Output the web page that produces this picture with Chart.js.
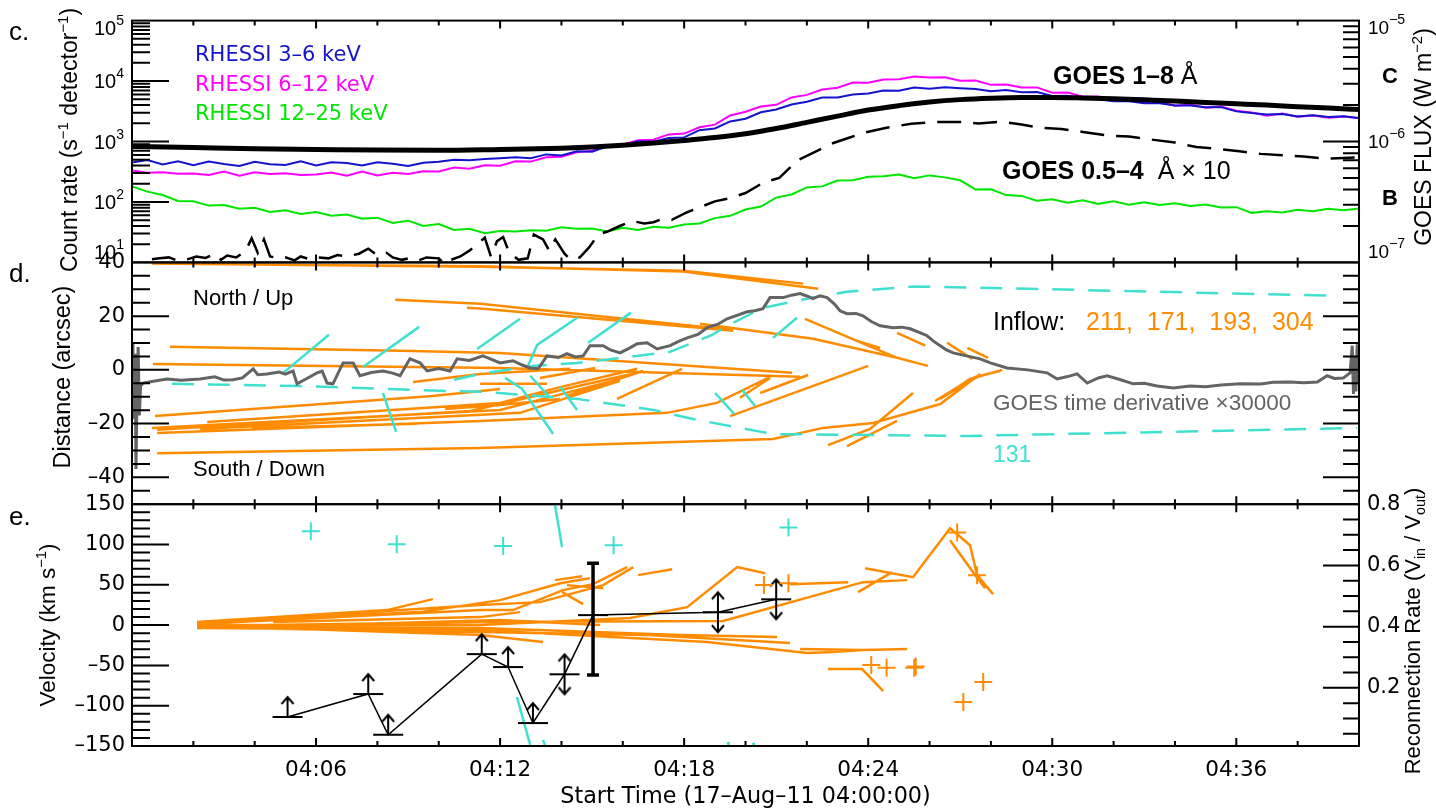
<!DOCTYPE html>
<html>
<head>
<meta charset="utf-8">
<title>17-Aug-11 flare: X-ray light curves, inflow tracks and speeds</title>
<script src="https://cdn.jsdelivr.net/npm/chart.js@4.4.1/dist/chart.umd.min.js"></script>
<style>
  html, body { margin: 0; padding: 0; background: #fff; }
  #wrap { width: 1436px; height: 810px; }
</style>
</head>
<body>
<div id="wrap"><canvas id="flare" width="1436" height="810"></canvas></div>
<script>
// ---------- panel c: X-ray light curves (minutes after 04:00) ----------
const rhessiTime = [
  0, 0.5, 1, 1.5, 2, 2.5, 3, 3.5, 4, 4.5,
  5, 5.5, 6, 6.5, 7, 7.5, 8, 8.5, 9, 9.5,
  10, 10.5, 11, 11.5, 12, 12.5, 13, 13.5, 14, 14.5,
  15, 15.5, 16, 16.5, 17, 17.5, 18, 18.5, 19, 19.5,
  20, 20.5, 21, 21.5, 22, 22.5, 23, 23.5, 24, 24.5,
  25, 25.5, 26, 26.5, 27, 27.5, 28, 28.5, 29, 29.5,
  30, 30.5, 31, 31.5, 32, 32.5, 33, 33.5, 34, 34.5,
  35, 35.5, 36, 36.5, 37, 37.5, 38, 38.5, 39, 39.5,
  40
];
const rhessi3to6 = [
  450, 492, 418, 470, 405, 468, 425, 392, 462, 420,
  410, 470, 402, 452, 440, 400, 452, 430, 392, 446,
  462, 500, 488, 512, 530, 548, 528, 612, 585, 690,
  680, 830, 860, 1010, 995, 1140, 1170, 1540, 1640, 2150,
  2380, 3050, 3380, 4100, 4560, 5350, 5350, 6000, 6200, 6950,
  6900, 7850, 7450, 7900, 7600, 7400, 6800, 7100, 6550, 6600,
  5650, 5700, 5050, 5000, 4650, 4650, 4300, 4300, 3950, 3950,
  3700, 3700, 3150, 2950, 2800, 2850, 2600, 2720, 2540, 2620,
  2450
];
const rhessi6to12 = [
  332, 305, 310, 292, 296, 280, 318, 272, 310, 290,
  298, 280, 285, 306, 272, 318, 275, 305, 290, 322,
  318, 372, 355, 405, 398, 470, 465, 550, 560, 665,
  705, 860, 890, 1045, 1070, 1310, 1350, 1720, 1900, 2700,
  3100, 3800, 4050, 5350, 5900, 7250, 7750, 9450, 9400, 10600,
  10700, 11900, 11400, 11600, 10100, 10200, 8650, 8800, 7800, 7850,
  6400, 6450, 5500, 5550, 4720, 4950, 4380, 4600, 3920, 4100,
  3630, 3800, 3220, 3020, 2680, 2900, 2580, 2700, 2480, 2580,
  2430
];
const rhessi12to25 = [
  180, 148, 130, 104, 103, 87, 89, 77, 80, 68,
  73, 63, 68, 59, 62, 53, 55, 45, 49, 40,
  43, 34.5, 36, 30.5, 33, 32.5, 34, 33.5, 38, 36,
  36.5, 32.5, 37.5, 34.5, 39, 37.5, 42.5, 44, 54, 59,
  75, 84, 118, 133, 174, 181, 226, 228, 262, 265,
  284, 246, 275, 255, 228, 160, 162, 130, 126, 105,
  111, 97, 107, 93, 103, 90, 99, 89, 95, 86,
  91, 81, 82, 66, 70, 67, 74, 70, 77, 73,
  78
];
const goesLongTime = [0, 2, 4, 6, 8, 10, 12, 14, 15, 16, 17, 18, 19, 20, 21, 22, 23, 24, 25, 26,
  27, 28, 29, 30, 31, 32, 33, 34, 35, 36, 37, 38, 39, 40];
const goesLongFlux = [9.1e-7, 8.9e-7, 8.7e-7, 8.6e-7, 8.5e-7, 8.45e-7, 8.6e-7, 8.8e-7, 9.0e-7, 9.3e-7,
  9.7e-7, 1.02e-6, 1.08e-6, 1.16e-6, 1.28e-6, 1.44e-6, 1.62e-6, 1.82e-6, 1.98e-6, 2.12e-6,
  2.22e-6, 2.28e-6, 2.31e-6, 2.31e-6, 2.29e-6, 2.26e-6, 2.21e-6, 2.16e-6, 2.10e-6, 2.05e-6,
  2.0e-6, 1.94e-6, 1.89e-6, 1.84e-6];
const goesShortTime = [
  0.65, 0.9, 1.2, 1.5, 1.8, 2.1, 2.4, 2.7, 2.9, 3.1,
  3.4, 3.7, 3.9, 4.1, 4.3, 4.5, 4.8, 5.0, 5.3, 5.5,
  5.8, 6.0, 6.4, 6.7, 7.0, 7.4, 7.7, 8.0, 8.3, 8.5,
  8.8, 9.0, 9.3, 9.6, 10.0, 10.2, 10.4, 10.7, 11.0, 11.3,
  11.5, 11.7, 11.9, 12.1, 12.3, 12.6, 12.9, 13.1, 13.4, 13.6,
  13.8, 14.1, 14.3, 14.6, 14.9, 15.2, 15.5, 15.9, 16.3, 16.7,
  17.0, 17.3, 17.6, 18.1, 18.5, 19.0, 19.5, 20.0, 20.6, 21.1,
  21.7, 22.3, 22.8, 23.4, 23.9, 24.6, 25.4, 26.2, 27.0, 27.6,
  28.3, 29.0, 29.6, 30.3, 31.0, 31.8, 32.5, 33.2, 34.0, 34.7,
  35.4, 36.1, 36.8, 37.5, 38.2, 38.9, 39.5, 40
];
// 0.5-4 A channel, already multiplied by 10
const goesShortFlux = [
  1.06e-7, 1.08e-7, 1.1e-7, 1.03e-7, 1.06e-7, 1.12e-7, 1.09e-7, 1.18e-7, 1.05e-7, 1.14e-7,
  1.1e-7, 1.24e-7, 1.58e-7, 1.2e-7, 1.55e-7, 1.12e-7, 1.08e-7, 1.1e-7, 1.04e-7, 1.12e-7,
  1.06e-7, 1.1e-7, 1.08e-7, 1.15e-7, 1.12e-7, 1.18e-7, 1.3e-7, 1.14e-7, 1.2e-7, 1.1e-7,
  1.05e-7, 1.08e-7, 1.03e-7, 1.1e-7, 1.08e-7, 0.97e-7, 1.05e-7, 1.12e-7, 1.25e-7, 1.45e-7,
  1.6e-7, 1.12e-7, 1.5e-7, 1.62e-7, 1.2e-7, 1.05e-7, 1.08e-7, 1.7e-7, 1.55e-7, 1.25e-7,
  1.55e-7, 1.18e-7, 1.05e-7, 1.1e-7, 1.33e-7, 1.7e-7, 1.8e-7, 2.0e-7, 2.2e-7, 2.1e-7,
  2.15e-7, 2.3e-7, 2.25e-7, 2.6e-7, 2.85e-7, 3.2e-7, 3.4e-7, 3.75e-7, 4.6e-7, 5.0e-7,
  7.0e-7, 8.3e-7, 9.6e-7, 1.08e-6, 1.19e-6, 1.3e-6, 1.4e-6, 1.45e-6, 1.45e-6, 1.41e-6,
  1.46e-6, 1.38e-6, 1.30e-6, 1.27e-6, 1.2e-6, 1.12e-6, 1.1e-6, 1.04e-6, 9.8e-7, 9.0e-7,
  8.7e-7, 8.3e-7, 7.9e-7, 7.7e-7, 7.5e-7, 7.2e-7, 7.3e-7, 7.4e-7
];

// ---------- panel d: distance of inflow tracks, [minute, arcsec] ----------
const derivative = [
  [0.03, 9.7], [0.06, -18.3], [0.1, 6], [0.13, -36.9], [0.16, -12], [0.2, 8.5], [0.24, -17], [0.28, -6], [0.36, -4.9],
  [0.7, -4.2], [1.14, -3.4], [1.6, -3.9], [2.22, -3.4], [2.7, -2.6], [3.0, -3.8], [3.29, -3.7], [3.6, -3.0],
  [3.95, 0.4], [4.1, -1.8], [4.4, -1.5], [4.8, -0.8], [5.0, -1.6], [5.25, -0.4], [5.38, -5.2], [5.7, -3.2],
  [6.03, -1.1], [6.2, -0.5], [6.36, -4.9], [6.55, -5.2], [6.88, 2.6], [7.21, 2.6], [7.43, -2.2], [7.8, -1.0],
  [8.18, -0.4], [8.5, -1.2], [8.74, -2.2], [9.06, 4.1], [9.39, 2.6], [9.62, -0.4], [10.0, 0.5], [10.37, -0.4],
  [10.6, 4.1], [11.0, 3.5], [11.44, 5.2], [11.7, 4.0], [12.0, 2.6], [12.42, 3.4], [12.7, 1.9], [12.98, 0.7],
  [13.24, 0.4], [13.53, 5.2], [13.9, 4.6], [14.18, 6.0], [14.45, 4.8], [14.71, 5.2], [14.93, 9.0], [15.36, 9.0],
  [15.6, 7.4], [15.91, 6.3], [16.2, 8.0], [16.47, 9.7], [16.79, 10.1], [17.12, 7.8], [17.54, 9.0], [17.8, 10.5],
  [18.1, 11.9], [18.45, 13.2], [18.75, 15.7], [19.1, 17.0], [19.4, 19.0], [19.7, 20.2], [20.05, 21.6], [20.3, 22.0],
  [20.57, 22.8], [20.8, 26.9], [21.23, 26.9], [21.5, 27.8], [21.78, 28.4], [22.0, 27.5], [22.2, 26.5], [22.43, 27.6],
  [22.66, 26.9], [22.9, 24.5], [23.08, 22.0], [23.31, 20.9], [23.6, 21.0], [23.83, 20.1], [24.1, 18.0], [24.39, 16.4],
  [24.81, 15.7], [25.1, 15.9], [25.37, 15.3], [25.7, 13.8], [25.92, 12.7], [26.15, 10.5], [26.35, 9.0], [26.55, 7.4],
  [26.77, 6.3], [27.2, 5.2], [27.65, 4.1], [27.98, 2.6], [28.53, 0.7], [29.2, 0.0], [29.83, -1.1], [30.16, -3.4],
  [30.5, -2.5], [30.81, -1.5], [31.14, -4.9], [31.5, -3.0], [31.79, -2.2], [32.2, -3.6], [32.64, -5.2], [33.0, -5.0],
  [33.42, -6.0], [33.94, -6.7], [34.5, -6.0], [35.0, -6.3], [35.5, -5.6], [36.13, -5.2], [36.8, -5.3], [37.2, -4.6],
  [37.76, -4.5], [38.2, -4.8], [38.64, -4.5], [38.96, -2.2], [39.2, -3.2], [39.49, -3.0], [39.71, -1.1],
  [39.78, 9.0], [39.82, -9.0], [39.86, 5.0], [39.9, -8.0], [39.94, 9.5], [39.98, -5.0]
];
const inflowTracks = [
  [[0.65, 39.6], [11.35, 38.4], [17.97, 36.9], [21.88, 32.1]],
  [[5.5, 39.0], [11.35, 38.6], [17.97, 36.6], [22.37, 30.2]],
  [[8.58, 26.1], [11.35, 24.6], [19.5, 14.9]],
  [[10.92, 23.1], [11.35, 22.8], [19.6, 14.6]],
  [[18.52, 17.2], [22.2, 11.6], [24.94, 4.5], [25.95, 1.5]],
  [[21.94, 19.0], [24.94, 4.5]],
  [[23.64, 10.8], [24.39, 8.2]],
  [[24.94, 13.8], [25.86, 9.0]],
  [[26.57, 10.1], [27.39, 4.1]],
  [[27.23, 8.2], [27.91, 4.5]],
  [[1.24, 8.6], [8.74, 7.1], [12.0, 6.3], [21.52, -1.1]],
  [[0.68, 2.2], [12.0, 0.7], [21.78, -2.6]],
  [[9.16, -4.5], [11.35, -1.5], [14.28, 0.4]],
  [[11.35, -5.2], [13.53, -5.2]],
  [[13.30, -3.0], [15.10, 0.7]],
  [[13.86, -6.7], [16.47, 0.4]],
  [[14.18, -9.7], [16.66, -0.4]],
  [[13.40, -10.8], [15.91, -3.4]],
  [[15.81, -10.8], [17.93, 0.4]],
  [[0.75, -17.2], [9.81, -9.7], [12.0, -7.1]],
  [[2.45, -19.4], [12.0, -12.3], [13.86, -6.7]],
  [[0.65, -21.6], [12.0, -14.9], [13.40, -10.8]],
  [[0.82, -23.5], [11.35, -19.0], [17.44, -16.0], [19.07, -12.3], [20.80, -2.6]],
  [[3.91, -21.6], [9.29, -20.1]],
  [[10.21, -14.6], [12.0, -13.1], [13.96, -10.8]],
  [[0.82, -31.0], [11.35, -29.1], [20.90, -25.7], [22.53, -21.6], [24.16, -19.8], [26.35, -12.7], [27.65, -1.5]],
  [[19.5, -17.2], [24.0, 1.5]],
  [[19.82, -10.4], [20.8, -3.0]],
  [[20.48, -8.6], [22.04, -1.9]],
  [[22.69, -28.0], [24.06, -22.0], [25.46, -8.6]],
  [[23.31, -28.4], [24.94, -19.0]],
  [[26.18, -11.6], [27.09, -5.2], [27.65, -2.2]],
  [[26.35, -10.8], [27.32, -3.4], [28.37, 0.0]],
  [[26.51, -9.7], [27.49, -2.6], [28.30, -0.4]],
  [[0.82, -22.3], [11.02, -15.3], [16.47, -1.0]],
  [[2.22, -22.0], [12.65, -16.0], [15.91, -4.1]]
];
const tracks131 = [
  [[4.89, -1.5], [6.42, 13.1]],
  [[7.53, 1.1], [9.36, 16.0]],
  [[11.25, 7.8], [12.65, 19.0]],
  [[12.91, 1.5], [13.21, 9.3], [14.51, 19.4]],
  [[14.87, 10.1], [16.27, 21.3]],
  [[8.18, -8.6], [8.61, -23.1]],
  [[12.16, -3.0], [12.72, -7.1], [13.73, -23.9]],
  [[12.98, -2.2], [13.63, -10.4]],
  [[13.96, -6.3], [14.51, -14.9]],
  [[19.01, -8.6], [19.63, -16.4]],
  [[19.89, -7.5], [20.31, -13.4]],
  [[20.90, 11.9], [21.68, 19.4]]
];
const sheet131Upper = [[10.5, -3.7], [11.35, -1.5], [13.14, 1.5], [14.51, 2.6], [16.01, 4.5], [17.54, 6.7],
  [18.85, 12.7], [19.60, 17.5], [20.57, 23.1], [22.20, 26.9], [23.31, 29.1], [25.46, 31.0], [27.65, 30.6], [39.06, 27.6]];
const sheet131Lower = [[1.30, -5.2], [5.48, -6.0], [10.04, -7.8], [11.44, -8.2], [14.51, -10.8], [16.99, -14.9],
  [18.29, -18.3], [20.38, -22.8], [20.90, -23.9], [27.23, -24.6], [39.94, -21.6]];

// ---------- panel e: speeds, [minute, km/s] ----------
const inflowSpeeds = [
  [[2.12, 3.7], [8.31, 18.6], [9.81, 32.2]],
  [[2.12, 2.5], [11.35, 24.8], [13.30, 28.5], [15.36, 49.6], [16.34, 71.9]],
  [[2.12, 1.5], [11.35, 18.6], [12.42, 18.6], [14.05, 43.4], [15.03, 50.8], [16.14, 71.9]],
  [[13.79, 55.8], [14.67, 60.7]],
  [[14.18, 49.6], [15.36, 45.8]],
  [[14.02, 40.9], [14.71, 26.0]],
  [[16.50, 62.0], [17.61, 69.4]],
  [[2.12, 0.0], [11.35, 0.0], [16.24, 8.7], [18.10, 22.3], [19.73, 71.9], [20.64, 64.4]],
  [[2.12, -1.2], [11.35, 3.7], [19.27, 5.0], [23.83, 53.3], [25.27, 55.8]],
  [[21.45, 50.8], [23.35, 53.3]],
  [[23.9, 70.6], [25.46, 59.5], [26.67, 120.2], [27.32, 99.1], [27.55, 62.0], [28.07, 38.4]],
  [[26.67, 105.3], [27.42, 65.7], [27.81, 45.8]],
  [[23.67, 40.9], [24.78, 65.7]],
  [[2.12, -2.5], [11.35, -3.7], [17.87, -12.4], [21.03, -14.9]],
  [[2.12, -3.7], [11.35, -6.2], [18.75, -21.1], [22.01, -34.7], [22.86, -33.5], [23.83, -31.0], [25.27, -29.7]],
  [[21.78, -29.7], [23.83, -31.0]],
  [[4.6, -4.5], [11.35, -8.7], [16.79, -12.4], [21.45, -22.3]],
  [[22.69, -54.5], [23.8, -54.5], [24.49, -81.8]],
  [[4.6, -3.7], [11.35, -12.4], [13.40, -21.1]],
  [[4.6, 3.7], [11.35, 9.9], [12.65, 16.1]],
  [[5.15, -1.2], [11.99, 6.2], [15.26, 0.0]],
  [[2.12, 2.5], [9.39, 16.1], [12.0, 31.0], [13.96, 52.0], [14.93, 58.2]]
];
const speeds131 = [
  [[13.79, 148.7], [14.02, 96.7]],
  [[12.55, -89.2], [12.98, -148.7]],
  [[13.40, -142.5], [13.47, -150]],
  [[19.43, -145], [19.45, -150]],
  [[20.25, -146], [20.27, -150]]
];
const plus131 = [[5.83, 116.5], [8.63, 100.4], [12.1, 98], [15.7, 99], [21.4, 121]];
const plusInflow = [[20.6, 49.6], [21.4, 52], [24.1, -49.6], [24.6, -53], [25.5, -53], [25.55, -51.5],
  [26.9, 115], [27.55, 62], [27.1, -95.5], [27.75, -70.6]];
const outflowTime = [5.07, 7.7, 8.35, 11.4, 12.26, 13.07, 14.1, 15.03, 19.1, 21.0];
const outflowSpeed = [-114, -85.5, -136, -36, -52, -121.5, -61, 12.4, 16, 32];
const outflowKind = ['up', 'up', 'up', 'up', 'up', 'up', 'both', 'bar', 'both', 'both'];
const errTime = [15.03];
const errLow = [-62];
const errHigh = [76.8];

// ---------- axes ----------
const timeTicks = [6, 12, 18, 24, 30, 36];
const timeLabels = ['04:06', '04:12', '04:18', '04:24', '04:30', '04:36'];
const distanceTicks = [-40, -20, 0, 20, 40];
const velocityTicks = [-150, -100, -50, 0, 50, 100, 150];
const rateTicks = [0.2, 0.4, 0.6, 0.8];
const countDecades = [1, 2, 3, 4, 5];
const fluxDecades = [-7, -6, -5];

const BLUE = '#1414cc', MAGENTA = '#ff00ff', GREEN = '#00e600';
const ORANGE = '#ff8c00', CYAN = '#40e0d0', GRAY = '#646464';
const AXIS_FONT = 'DejaVu Sans', NOTE_FONT = 'Liberation Sans';

const pairs = list => list.map(([x, y]) => ({x, y}));
const series = (xs, ys) => xs.map((x, i) => ({x, y: ys[i]}));
// separate polylines with a null point so the line breaks between them
const joinTracks = tracks => tracks.flatMap(tr => [...pairs(tr), {x: tr[tr.length - 1][0], y: null}]);
const dash = v => (v < 0 ? '\u2013' : '') + Math.abs(v);

function lineSet(data, yAxisID, color, width, extra) {
  return Object.assign({data, yAxisID, showLine: true, borderColor: color, backgroundColor: color,
    borderWidth: width, pointRadius: 0, fill: false}, extra);
}

// bar with up arrow (lower limit) or double arrow
function limitMarker(kind) {
  const c = document.createElement('canvas');
  c.width = 34; c.height = 52;
  const g = c.getContext('2d');
  g.strokeStyle = '#000';
  g.lineWidth = 2;
  g.beginPath();
  g.moveTo(2, 26); g.lineTo(32, 26);
  if (kind !== 'bar') {
    g.moveTo(17, 26); g.lineTo(17, 6);
    g.moveTo(11, 13); g.lineTo(17, 6); g.lineTo(23, 13);
  }
  if (kind === 'both') {
    g.moveTo(17, 26); g.lineTo(17, 46);
    g.moveTo(11, 39); g.lineTo(17, 46); g.lineTo(23, 39);
  }
  g.stroke();
  return c;
}
const markers = {up: limitMarker('up'), both: limitMarker('both'), bar: limitMarker('bar')};

// text made of runs (superscripts, subscripts, bold parts)
function drawParts(ctx, parts, x, y, opts) {
  const o = Object.assign({align: 'left', rot: 0, color: '#000', family: NOTE_FONT, size: 20}, opts);
  const base = o.base !== undefined ? o.base : 0.36 * o.size;
  ctx.save();
  ctx.translate(x, y);
  if (o.rot) ctx.rotate(o.rot);
  ctx.textBaseline = 'alphabetic';
  ctx.textAlign = 'left';
  const fonts = parts.map(p => `${p.bold ? 'bold ' : ''}${p.size || o.size}px "${p.family || o.family}"`);
  const widths = parts.map((p, i) => { ctx.font = fonts[i]; return ctx.measureText(p.text).width; });
  const total = widths.reduce((a, b) => a + b, 0);
  let cx = o.align === 'right' ? -total : o.align === 'center' ? -total / 2 : 0;
  parts.forEach((p, i) => {
    ctx.font = fonts[i];
    ctx.fillStyle = p.color || o.color;
    ctx.fillText(p.text, cx, base + (p.dy || 0));
    cx += widths[i];
  });
  ctx.restore();
}
const sup = (text, s) => ({text, size: s * 0.65, dy: -s * 0.42});
const sub = (text, s) => ({text, size: s * 0.65, dy: s * 0.25});

// keep every dataset inside its own panel
const panelClip = {
  id: 'panelClip',
  beforeDatasetDraw(chart, args) {
    const s = args.meta.yScale, a = chart.chartArea, ctx = chart.ctx;
    ctx.save();
    ctx.beginPath();
    ctx.rect(a.left, s.top, a.right - a.left, s.bottom - s.top);
    ctx.clip();
  },
  afterDatasetDraw(chart) { chart.ctx.restore(); }
};

function yTicks(ctx, scale, xEdge, dir, values, isMajor, majorLen, minorLen) {
  ctx.beginPath();
  values.forEach(v => {
    const py = scale.getPixelForValue(v);
    const len = isMajor(v) ? majorLen : minorLen;
    ctx.moveTo(xEdge, py);
    ctx.lineTo(xEdge + dir * len, py);
  });
  ctx.stroke();
}

const frames = {
  id: 'frames',
  afterDraw(chart) {
    const {ctx, chartArea: a, scales} = chart;
    const x = scales.x;
    ctx.save();
    ctx.strokeStyle = '#000';
    ctx.lineWidth = 2;
    ['yC', 'yD', 'yE'].forEach(id => {
      const s = scales[id];
      ctx.strokeRect(a.left, s.top, a.right - a.left, s.bottom - s.top);
      ctx.beginPath();
      for (let t = 2; t < 40; t += 2) {
        const px = x.getPixelForValue(t);
        const len = t % 6 === 0 ? 8 : 5;
        ctx.moveTo(px, s.top); ctx.lineTo(px, s.top + len);
        ctx.moveTo(px, s.bottom); ctx.lineTo(px, s.bottom - len);
      }
      ctx.stroke();
    });

    // log ticks
    const logVals = (lo, hi) => {
      const out = [];
      for (let e = lo; e < hi; e++) for (let m = 1; m < 10; m++) if (!(e === lo && m === 1)) out.push(m * Math.pow(10, e));
      return out;
    };
    const decade = v => Math.abs(Math.log10(v) - Math.round(Math.log10(v))) < 1e-6;
    yTicks(ctx, scales.yC, a.left, 1, logVals(1, 5), decade, 37, 18);
    yTicks(ctx, scales.yCR, a.right, -1, logVals(-7, -5), decade, 36, 16);
    const dVals = [];
    for (let v = -45; v < 40; v += 5) dVals.push(v);
    yTicks(ctx, scales.yD, a.left, 1, dVals, v => v % 20 === 0, 37, 18);
    yTicks(ctx, scales.yDR, a.right, -1, dVals, v => v % 20 === 0, 36, 16);
    const eVals = [];
    for (let v = -140; v < 150; v += 10) eVals.push(v);
    yTicks(ctx, scales.yE, a.left, 1, eVals, v => v % 50 === 0, 37, 18);
    const rVals = [];
    for (let k = 1; k < 16; k++) rVals.push(k * 0.05);
    yTicks(ctx, scales.yER, a.right, -1, rVals, v => Math.abs(v / 0.2 - Math.round(v / 0.2)) < 1e-6, 36, 16);
    ctx.restore();

    // log tick labels
    const clampY = (s, py) => Math.min(Math.max(py, s.top + 7), s.bottom - 11);
    countDecades.forEach(e => {
      const s = scales.yC;
      const py = clampY(s, s.getPixelForValue(Math.pow(10, e)));
      drawParts(ctx, [{text: '10'}, {text: String(e), size: 14, dy: -10}], 124, py, {align: 'right', size: 20});
    });
    fluxDecades.forEach(e => {
      const s = scales.yCR;
      const py = clampY(s, s.getPixelForValue(Math.pow(10, e)));
      drawParts(ctx, [{text: '10'}, {text: '\u2212' + Math.abs(e), size: 14, dy: -10}], 1368, py, {size: 19});
    });

    // axis titles
    const up = -Math.PI / 2;
    drawParts(ctx, [{text: 'Count rate (s'}, sup('\u22121', 23), {text: ' detector'}, sup('\u22121', 23), {text: ')'}],
      69, 140, {align: 'center', rot: up, size: 23});
    drawParts(ctx, [{text: 'Distance (arcsec)'}], 62, 377, {align: 'center', rot: up, size: 23.5});
    drawParts(ctx, [{text: 'Velocity (km s'}, sup('\u22121', 22.5), {text: ')'}],
      47, 625, {align: 'center', rot: up, size: 22.5});
    drawParts(ctx, [{text: 'GOES FLUX (W m'}, sup('\u22122', 23), {text: ')'}],
      1423, 137, {align: 'center', rot: up, size: 23});
    drawParts(ctx, [{text: 'Reconnection Rate (V'}, sub('in', 22), {text: ' / V'}, sub('out', 22), {text: ')'}],
      1412, 631, {align: 'center', rot: up, size: 22});
    drawParts(ctx, [{text: 'Start Time (17\u2013Aug\u201311 04:00:00)'}], (a.left + a.right) / 2, 795,
      {align: 'center', size: 22.3, family: AXIS_FONT});

    // panel letters
    drawParts(ctx, [{text: 'c.'}], 9, 40, {size: 26, base: 0});
    drawParts(ctx, [{text: 'd.'}], 9, 282, {size: 26, base: 0});
    drawParts(ctx, [{text: 'e.'}], 9, 525, {size: 26, base: 0});

    // panel c labels
    drawParts(ctx, [{text: 'RHESSI 3\u20136 keV'}], 195, 53, {size: 21, family: AXIS_FONT, color: BLUE});
    drawParts(ctx, [{text: 'RHESSI 6\u201312 keV'}], 195, 83, {size: 21, family: AXIS_FONT, color: MAGENTA});
    drawParts(ctx, [{text: 'RHESSI 12\u201325 keV'}], 195, 112, {size: 21, family: AXIS_FONT, color: GREEN});
    drawParts(ctx, [{text: 'GOES 1\u20138 ', bold: true}, {text: '\u00c5'}], 1053, 75, {size: 25});
    drawParts(ctx, [{text: 'GOES 0.5\u20134', bold: true}, {text: '  \u00c5 \u00d7 10'}], 1002, 170, {size: 25});
    drawParts(ctx, [{text: 'C', bold: true}], 1382, 75, {size: 22});
    drawParts(ctx, [{text: 'B', bold: true}], 1382, 197, {size: 22});

    // panel d labels
    drawParts(ctx, [{text: 'North / Up'}], 193, 297, {size: 22});
    drawParts(ctx, [{text: 'South / Down'}], 193, 468, {size: 22});
    drawParts(ctx, [{text: 'Inflow:'}, {text: '   211,  171,  193,  304', color: ORANGE}], 993, 321, {size: 25});
    drawParts(ctx, [{text: 'GOES time derivative \u00d730000'}], 993, 402, {size: 22.5, color: GRAY});
    drawParts(ctx, [{text: '131'}], 993, 454, {size: 23, color: CYAN});
  }
};

const tickFont = size => ({family: AXIS_FONT, size});
const hidden = {grid: {display: false, drawTicks: false}, border: {display: false}};

new Chart(document.getElementById('flare'), {
  type: 'scatter',
  data: {
    datasets: [
      // panel c
      lineSet(series(goesLongTime, goesLongFlux), 'yCR', '#000', 5, {order: 1, cubicInterpolationMode: 'monotone'}),
      lineSet(series(goesShortTime, goesShortFlux), 'yCR', '#000', 2.5, {order: 2, borderDash: [24, 12]}),
      lineSet(series(rhessiTime, rhessi3to6), 'yC', BLUE, 2, {order: 3}),
      lineSet(series(rhessiTime, rhessi6to12), 'yC', MAGENTA, 2, {order: 4}),
      lineSet(series(rhessiTime, rhessi12to25), 'yC', GREEN, 2, {order: 5}),
      // panel d
      lineSet(pairs(derivative), 'yD', GRAY, 3, {order: 9}),
      lineSet(joinTracks(tracks131), 'yD', CYAN, 2.5, {order: 10}),
      lineSet(joinTracks([sheet131Upper, sheet131Lower]), 'yD', CYAN, 2.5, {order: 11, borderDash: [22, 14]}),
      lineSet(joinTracks(inflowTracks), 'yD', ORANGE, 2.5, {order: 12}),
      // panel e
      {data: pairs(plus131), yAxisID: 'yE', showLine: false, pointStyle: 'cross', pointRadius: 9,
        pointBorderWidth: 2, borderColor: CYAN, backgroundColor: CYAN, order: 15},
      {data: pairs(plusInflow), yAxisID: 'yE', showLine: false, pointStyle: 'cross', pointRadius: 9,
        pointBorderWidth: 2, borderColor: ORANGE, backgroundColor: ORANGE, order: 16},
      lineSet(series(outflowTime, outflowSpeed), 'yE', '#000', 1.5,
        {order: 17, pointStyle: outflowKind.map(k => markers[k]), pointRadius: 10}),
      lineSet([{x: errTime[0], y: errLow[0]}, {x: errTime[0], y: errHigh[0]}], 'yE', '#000', 3.5,
        {order: 18, pointStyle: 'line', pointRadius: 6, pointBorderWidth: 3.5}),
      lineSet(joinTracks(speeds131), 'yE', CYAN, 2.5, {order: 19}),
      lineSet(joinTracks(inflowSpeeds), 'yE', ORANGE, 2.5, {order: 20})
    ]
  },
  options: {
    responsive: false,
    devicePixelRatio: 1,
    animation: false,
    events: [],
    layout: {padding: {top: 20, left: 0, right: 0, bottom: 0}},
    plugins: {legend: {display: false}, tooltip: {enabled: false}},
    scales: {
      x: {
        type: 'linear', position: 'bottom', min: 0, max: 40, ...hidden,
        afterBuildTicks: s => { s.ticks = timeTicks.map(v => ({value: v})); },
        afterFit: s => { s.height = 64; },
        ticks: {font: tickFont(21.5), color: '#000', padding: 12, maxRotation: 0, autoSkip: false,
          callback: (v, i) => timeLabels[i]}
      },
      yC: {
        type: 'logarithmic', position: 'left', stack: 'left', weight: 3, min: 10, max: 1e5, ...hidden,
        afterFit: s => { s.width = 132; },
        ticks: {display: false}
      },
      yD: {
        type: 'linear', position: 'left', stack: 'left', weight: 2, min: -50, max: 40, ...hidden,
        afterBuildTicks: s => { s.ticks = distanceTicks.map(v => ({value: v})); },
        afterFit: s => { s.width = 132; },
        ticks: {font: tickFont(21), color: '#000', padding: 7, autoSkip: false, callback: v => dash(v)}
      },
      yE: {
        type: 'linear', position: 'left', stack: 'left', weight: 1, min: -150, max: 150, ...hidden,
        afterBuildTicks: s => { s.ticks = velocityTicks.map(v => ({value: v})); },
        afterFit: s => { s.width = 132; },
        ticks: {font: tickFont(21), color: '#000', padding: 7, autoSkip: false, callback: v => dash(v)}
      },
      yCR: {
        type: 'logarithmic', position: 'right', stack: 'right', weight: 1, min: 1e-7, max: 1e-5, ...hidden,
        afterFit: s => { s.width = 77; },
        ticks: {display: false}
      },
      yDR: {
        type: 'linear', position: 'right', stack: 'right', weight: 2, min: -50, max: 40, ...hidden,
        afterFit: s => { s.width = 77; },
        ticks: {display: false}
      },
      yER: {
        type: 'linear', position: 'right', stack: 'right', weight: 3, min: 0.01, max: 0.8, ...hidden,
        afterBuildTicks: s => { s.ticks = rateTicks.map(v => ({value: v})); },
        afterFit: s => { s.width = 77; },
        ticks: {font: tickFont(21), color: '#000', padding: 8, autoSkip: false, callback: v => v.toFixed(1)}
      }
    }
  },
  plugins: [panelClip, frames]
});
</script>
</body>
</html>
